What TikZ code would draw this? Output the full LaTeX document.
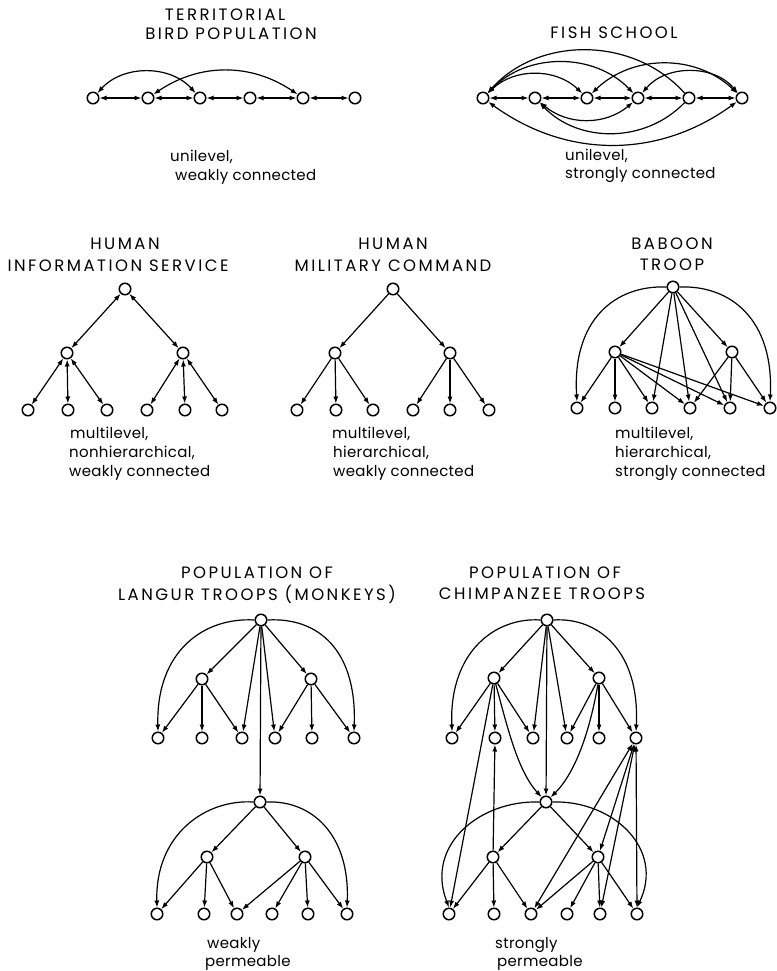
\documentclass[tikz,border=0pt]{standalone}
\usepackage{fontspec}
\setmainfont{Poppins}
\usetikzlibrary{arrows.meta}
\begin{document}
\begin{tikzpicture}[x=1pt,y=-1pt,
  nd/.style={circle,draw,line width=1.5pt,minimum size=11.5pt,inner sep=0pt,fill=white},
  ar/.style={line width=1.2pt,-{Latex[length=7pt,width=5pt]}},
  ra/.style={line width=1.2pt,{Latex[length=7pt,width=5pt]}-},
  bi/.style={line width=1.2pt,{Latex[length=7pt,width=5pt]}-{Latex[length=7pt,width=5pt]}},
  ttl/.style={anchor=base,inner sep=0pt,font=\fontsize{16.5}{19}\selectfont\addfontfeatures{LetterSpace=15}},
  lbl/.style={anchor=base west,inner sep=0pt,font=\fontsize{15}{18}\selectfont\addfontfeatures{LetterSpace=2}}]
\useasboundingbox (0,0) rectangle (776,971);

% ---------------- Territorial bird population
\node[ttl] (tA) at (225,21) {TERRITORIAL};
\node[ttl] (tB) at (231,40) {BIRD POPULATION};
\foreach \n/\x in {1/93,2/148,3/200,4/250,5/303,6/355}
  \node[nd] (b\n) at (\x,98) {};
\foreach \a/\b in {1/2,2/3,3/4,4/5,5/6}
  \draw[bi] (b\a) -- (b\b);
\draw[bi] (b1) to[bend left=48] (b3);
\draw[bi] (b2) to[bend left=34] (b5);
\node[lbl] (lA1) at (170,161) {unilevel,};
\node[lbl] (lA2) at (175,180) {weakly connected};

% ---------------- Fish school
\node[ttl] (tF) at (614,39) {FISH SCHOOL};
\foreach \n/\x in {1/483,2/535,3/587,4/638,5/689,6/742}
  \node[nd] (f\n) at (\x,98) {};
\foreach \a/\b in {1/2,2/3,3/4,4/5,5/6}
  \draw[bi] (f\a) -- (f\b);
\draw[ra] (f1) to[bend left=48] (f5);
\draw[bi] (f1) to[bend left=46] (f4);
\draw[bi] (f1) to[bend left=44] (f3);
\draw[bi] (f3) to[bend left=44] (f6);
\draw[bi] (f4) to[bend left=50] (f6);
\draw[bi] (f2) to[bend right=40] (f4);
\draw[ra] (f2) to[bend right=46] (f5);
\draw[bi] (f1) to[bend right=36] (f6);
\node[lbl] (lF1) at (565,160) {unilevel,};
\node[lbl] (lF2) at (565,178) {strongly connected};

% ---------------- Human information service
\node[ttl] (tI1) at (125,249) {HUMAN};
\node[ttl] (tI2) at (118,271) {INFORMATION SERVICE};
\node[nd] (it) at (125,289) {};
\node[nd] (iL) at (67,353) {};
\node[nd] (iR) at (183,353) {};
\foreach \n/\x in {1/28,2/68,3/107,4/147,5/185,6/222}
  \node[nd] (i\n) at (\x,410) {};
\draw[bi] (it) -- (iL);
\draw[bi] (it) -- (iR);
\foreach \n in {1,2,3} \draw[bi] (iL) -- (i\n);
\foreach \n in {4,5,6} \draw[bi] (iR) -- (i\n);
\node[lbl] (lI1) at (70,438) {multilevel,};
\node[lbl] (lI2) at (69,457) {nonhierarchical,};
\node[lbl] (lI3) at (69,476) {weakly connected};

% ---------------- Human military command
\node[ttl] (tM1) at (393,249) {HUMAN};
\node[ttl] (tM2) at (393,271) {MILITARY COMMAND};
\node[nd] (mt) at (393,289) {};
\node[nd] (mL) at (335,353) {};
\node[nd] (mR) at (450,353) {};
\foreach \n/\x in {1/297,2/336,3/373,4/413,5/450,6/489}
  \node[nd] (m\n) at (\x,410) {};
\draw[ar] (mt) -- (mL);
\draw[ar] (mt) -- (mR);
\foreach \n in {1,2,3} \draw[ar] (mL) -- (m\n);
\foreach \n in {4,5,6} \draw[ar] (mR) -- (m\n);
\node[lbl] (lM1) at (332,438) {multilevel,};
\node[lbl] (lM2) at (333,457) {hierarchical,};
\node[lbl] (lM3) at (333,476) {weakly connected};

% ---------------- Baboon troop
\node[ttl] (tB1) at (672,249) {BABOON};
\node[ttl] (tB2) at (672,270) {TROOP};
\node[nd] (bt) at (673,287) {};
\node[nd] (bL) at (615,352) {};
\node[nd] (bR) at (732,352) {};
\foreach \n/\x in {1/577,2/615,3/652,4/690,5/730,6/770}
  \node[nd] (o\n) at (\x,408) {};
\draw[ar] (bt) -- (bL);
\draw[ar] (bt) -- (bR);
\foreach \n in {3,4,5} \draw[ar] (bt) -- (o\n);
\draw[ar] (bt.west) .. controls (615,285) and (572,320) .. (o1.north);
\draw[ar] (bt.east) .. controls (731,285) and (774,320) .. (o6.north);
\foreach \n in {1,2,3,4,5,6} \draw[ar] (bL) -- (o\n);
\foreach \n in {4,5,6} \draw[ar] (bR) -- (o\n);
\node[lbl] (lB1) at (615,438) {multilevel,};
\node[lbl] (lB2) at (615,457) {hierarchical,};
\node[lbl] (lB3) at (615,476) {strongly connected};

% ---------------- Langur troops
\node[ttl] (tL1) at (257,578) {POPULATION OF};
\node[ttl] (tL2) at (257,600) {LANGUR TROOPS (MONKEYS)};
\node[nd] (lt) at (261,620) {};
\node[nd] (lL) at (202,679) {};
\node[nd] (lR) at (311,679) {};
\foreach \n/\x in {1/158,2/202,3/242,4/275,5/312,6/354}
  \node[nd] (l\n) at (\x,738) {};
\draw[ar] (lt) -- (lL);
\draw[ar] (lt) -- (lR);
\draw[ar] (lt) -- (l3);
\draw[ar] (lt) -- (l4);
\draw[ar] (lt.west) .. controls (205,617) and (156,650) .. (l1.north);
\draw[ar] (lt.east) .. controls (318,617) and (357,650) .. (l6.north);
\foreach \n in {1,2,3} \draw[ar] (lL) -- (l\n);
\foreach \n in {4,5,6} \draw[ar] (lR) -- (l\n);
\node[nd] (kt) at (260,802) {};
\node[nd] (kL) at (207,857) {};
\node[nd] (kR) at (305,857) {};
\foreach \n/\x in {1/157,2/204,3/237,4/272,5/308,6/347}
  \node[nd] (k\n) at (\x,914) {};
\draw[ar] (lt) -- (kt);
\draw[ar] (kt) -- (kL);
\draw[ar] (kt) -- (kR);
\draw[ar] (kt.west) .. controls (205,799) and (155,835) .. (k1.north);
\draw[ar] (kt.east) .. controls (312,800) and (350,835) .. (k6.north);
\foreach \n in {1,2,3} \draw[ar] (kL) -- (k\n);
\foreach \n in {3,4,5,6} \draw[ar] (kR) -- (k\n);
\node[lbl] (lL1) at (207,948) {weakly};
\node[lbl] (lL2) at (205,966) {permeable};

% ---------------- Chimpanzee troops
\node[ttl] (tC1) at (545,578) {POPULATION OF};
\node[ttl] (tC2) at (542,599) {CHIMPANZEE TROOPS};
\node[nd] (ct) at (547,620) {};
\node[nd] (cL) at (494,678) {};
\node[nd] (cR) at (599,678) {};
\foreach \n/\x in {1/452,2/495,3/533,4/567,5/599,6/636}
  \node[nd] (c\n) at (\x,738) {};
\draw[ar] (ct) -- (cL);
\draw[ar] (ct) -- (cR);
\draw[ar] (ct) -- (c3);
\draw[ar] (ct) -- (c4);
\draw[ar] (ct.west) .. controls (497,617) and (449,650) .. (c1.north);
\draw[ar] (ct.east) .. controls (597,617) and (640,650) .. (c6.north);
\foreach \n in {1,2,3} \draw[ar] (cL) -- (c\n);
\foreach \n in {4,5,6} \draw[ar] (cR) -- (c\n);
\node[nd] (cc) at (546,802) {};
\node[nd] (dL) at (493,857) {};
\node[nd] (dR) at (598,857) {};
\foreach \n/\x in {1/449,2/494,3/531,4/567,5/600,6/637}
  \node[nd] (d\n) at (\x,914) {};
\draw[ar] (ct) -- (cc);
\draw[ar] (cL) .. controls (507,725) and (517,770) .. (cc);
\draw[ar] (cR) .. controls (590,730) and (576,772) .. (cc);
\draw[ar] (cc) -- (dL);
\draw[ar] (cc) -- (dR);
\draw[ar] (cc.west) .. controls (480,800) and (425,845) .. (d1.north);
\draw[ar] (cc.east) .. controls (612,800) and (665,848) .. (d6.north);
\foreach \n in {1,2,3} \draw[ar] (dL) -- (d\n);
\foreach \n in {3,4,5,6} \draw[ar] (dR) -- (d\n);
\draw[ar] (cL) -- (d1);
\draw[ar] (dL) -- (c2);
\draw[bi] (c6) -- (d3);
\draw[bi] (c6) -- (dR);
\draw[bi] (c6) -- (d5);
\draw[bi] (c6) -- (d6);
\node[lbl] (lC1) at (495,948) {strongly};
\node[lbl] (lC2) at (497,966) {permeable};
\end{tikzpicture}
\end{document}
